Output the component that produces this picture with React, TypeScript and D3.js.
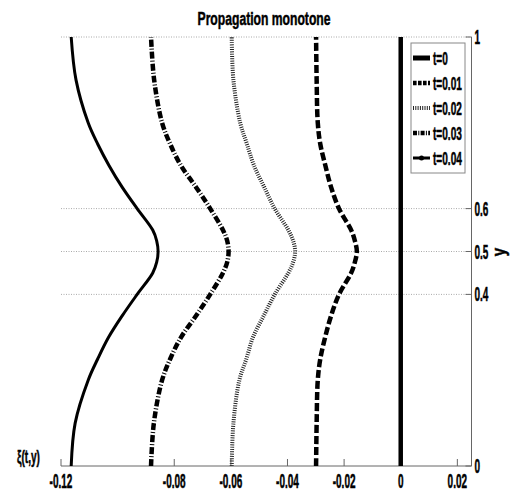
import React from 'react';
import * as d3 from 'd3';

const yLevels = [0, 0.1, 0.2, 0.25, 0.3, 0.35, 0.4, 0.45, 0.475, 0.5, 0.525, 0.55, 0.6, 0.65, 0.7, 0.75, 0.8, 0.9, 1];
const xiT0 = [0, 0, 0, 0, 0, 0, 0, 0, 0, 0, 0, 0, 0, 0, 0, 0, 0, 0, 0];
const xiT001 = [-0.0299, -0.0297, -0.0293, -0.0284, -0.0267, -0.0246, -0.0218, -0.0175, -0.0162, -0.0155, -0.0162, -0.0175, -0.0218, -0.0246, -0.0266, -0.0284, -0.0293, -0.0297, -0.0299];
const xiT002 = [-0.0597, -0.0591, -0.0570, -0.0545, -0.0522, -0.0484, -0.0445, -0.0397, -0.0380, -0.0373, -0.0380, -0.0397, -0.0445, -0.0482, -0.0518, -0.0543, -0.0567, -0.0591, -0.0597];
const xiT003 = [-0.0882, -0.0872, -0.0843, -0.0814, -0.0776, -0.0723, -0.0673, -0.0628, -0.0613, -0.0608, -0.0613, -0.0628, -0.0673, -0.0723, -0.0776, -0.0814, -0.0843, -0.0871, -0.0882];
const xiT004 = [-0.1164, -0.1150, -0.1104, -0.1070, -0.1032, -0.0984, -0.0931, -0.0876, -0.0862, -0.0857, -0.0862, -0.0876, -0.0931, -0.0984, -0.1030, -0.1070, -0.1104, -0.1147, -0.1164];

const seriesLabels = ['t=0', 't=0.01', 't=0.02', 't=0.03', 't=0.04'];
const xTickValues = [-0.12, -0.08, -0.06, -0.04, -0.02, 0, 0.02];
const xTickLabels = ['-0.12', '-0.08', '-0.06', '-0.04', '-0.02', '0', '0.02'];
const yTickValues = [0, 0.4, 0.5, 0.6, 1];
const yTickLabels = ['0', '0.4', '0.5', '0.6', '1'];
const gridValues = [0.4, 0.5, 0.6, 1];

const FONT = '"Liberation Sans", Arial, Helvetica, sans-serif';

const styles = [
  { width: 4.5, dash: undefined, legendDash: undefined, color: '#000' },
  { width: 4.5, dash: '8,3', legendDash: '3.6,1.4', color: '#000' },
  { width: 4, dash: '1,1.3', legendDash: '1,1.3', color: '#222' },
  { width: 4.5, dash: '7,2,1,2', legendDash: '4,1.3,1,1.3', color: '#000' },
  { width: 3, dash: undefined, legendDash: undefined, color: '#000' },
];

function CText(props: {
  x: number; y: number; s: number; size: number; anchor?: string; bold?: boolean; rotate?: number; children: React.ReactNode;
}) {
  const { x, y, s, size, anchor = 'start', bold = true, rotate = 0, children } = props;
  return (
    <text
      transform={`translate(${x},${y}) rotate(${rotate}) scale(${s},1)`}
      textAnchor={anchor}
      fontFamily={FONT}
      fontSize={size}
      fontWeight={bold ? 'bold' : 'normal'}
      fill="#000"
      stroke="#000"
      strokeWidth={0.5}
    >
      {children}
    </text>
  );
}

export default function App() {
  const x = d3.scaleLinear().domain([-0.12, 0.025]).range([61, 471.5]);
  const y = d3.scaleLinear().domain([0, 1]).range([466, 37]);
  const series = [xiT0, xiT001, xiT002, xiT003, xiT004];
  const line = d3
    .line<[number, number]>()
    .x((d) => x(d[0]))
    .y((d) => y(d[1]))
    .curve(d3.curveCatmullRom.alpha(0.5));

  const [x0, x1] = x.range();
  const [yb, yt] = y.range();

  const legendX = 411;
  const legendY = 43;
  const legendW = 54;
  const legendH = 130;

  return (
    <svg width={510} height={500} style={{ position: 'absolute', left: 0, top: 0, background: '#fff' }}>
      <rect x={0} y={0} width={510} height={500} fill="#fff" />
      {gridValues.map((g) => (
        <line key={g} x1={x0} x2={x1} y1={y(g)} y2={y(g)} stroke="#aaa" strokeWidth={1} strokeDasharray="1,1.5" />
      ))}
      <line x1={x0} x2={x1} y1={yb} y2={yb} stroke="#666" strokeWidth={1} />
      <line x1={x1} x2={x1} y1={yb} y2={yt} stroke="#666" strokeWidth={1} />
      {xTickValues.map((v, i) => (
        <g key={'xt' + i}>
          <line x1={x(v)} x2={x(v)} y1={yb} y2={yb - 7} stroke="#666" strokeWidth={1} />
          <CText x={x(v)} y={488} s={0.5} size={20} anchor="middle">{xTickLabels[i]}</CText>
        </g>
      ))}
      {yTickValues.map((v, i) => (
        <g key={'yt' + i}>
          <line x1={x1} x2={x1 - 6} y1={y(v)} y2={y(v)} stroke="#666" strokeWidth={1} />
          <CText x={x1 + 3} y={y(v) + 7} s={0.5} size={20}>{yTickLabels[i]}</CText>
        </g>
      ))}
      {series.map((vals, i) => (
        <path
          key={'s' + i}
          d={line(vals.map((v, j) => [v, yLevels[j]] as [number, number])) || ''}
          fill="none"
          stroke={styles[i].color}
          strokeWidth={styles[i].width}
          strokeDasharray={styles[i].dash}
        />
      ))}
      <CText x={264} y={25} s={0.64} size={19} anchor="middle">Propagation monotone</CText>
      <CText x={505} y={252} s={0.8} size={19} anchor="middle" rotate={-90}>y</CText>
      <CText x={17} y={463} s={0.56} size={18}>ξ(t,y)</CText>
      <rect x={legendX} y={legendY} width={legendW} height={legendH} fill="#fff" stroke="#888" strokeWidth={1} />
      {seriesLabels.map((lab, i) => {
        const ly = 58 + i * 25;
        return (
          <g key={'lg' + i}>
            <line
              x1={413}
              x2={430}
              y1={ly}
              y2={ly}
              stroke={styles[i].color}
              strokeWidth={i === 0 ? 5 : styles[i].width}
              strokeDasharray={styles[i].legendDash}
            />
            {i === 4 && <circle cx={421.5} cy={ly} r={2.5} fill="#000" />}
            <CText x={433} y={ly + 6.5} s={0.56} size={18}>{lab}</CText>
          </g>
        );
      })}
    </svg>
  );
}
